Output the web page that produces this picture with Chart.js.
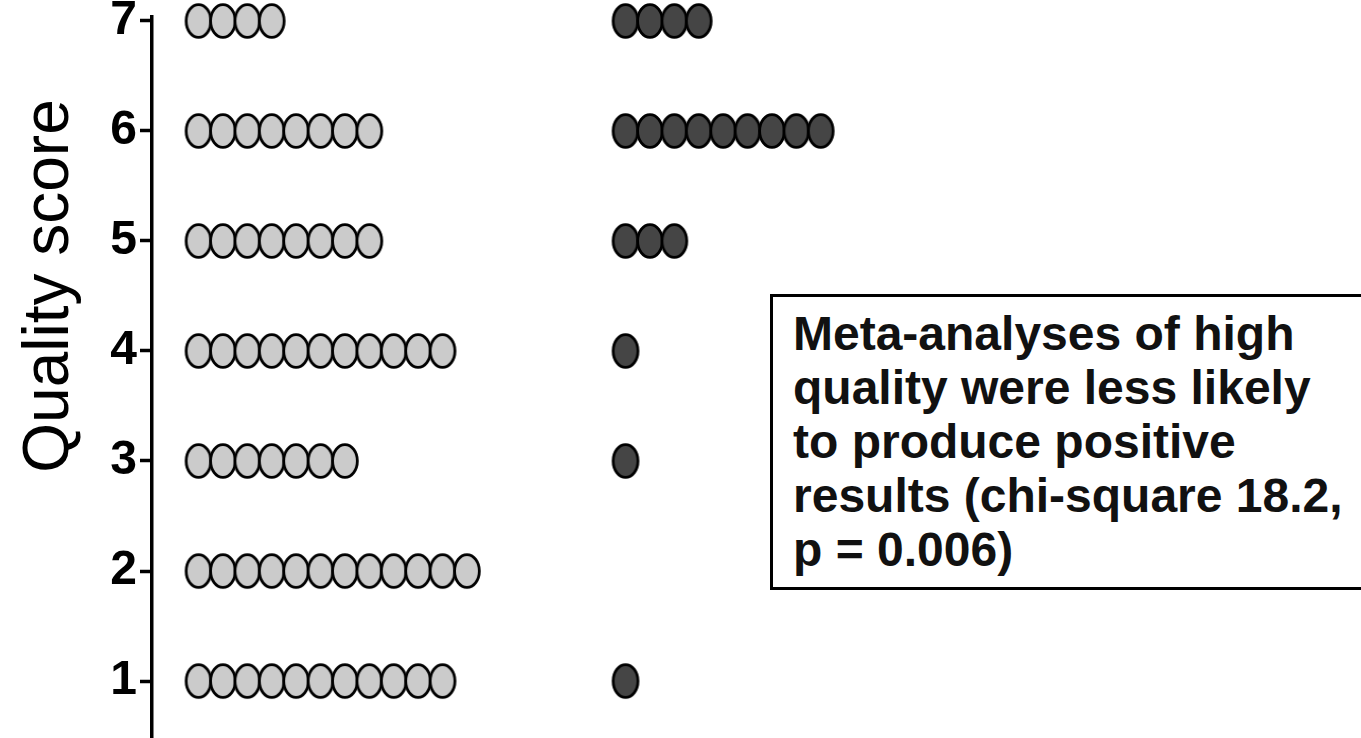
<!DOCTYPE html>
<html>
<head>
<meta charset="utf-8">
<script src="https://cdn.jsdelivr.net/npm/chart.js@4/dist/chart.umd.min.js"></script>
<style>
  html, body { margin: 0; padding: 0; background: #fff; overflow: hidden; }
  #wrap { position: relative; width: 1361px; height: 738px; }
  canvas { display: block; }
  #note {
    position: absolute;
    left: 770px;
    top: 294px;
    width: 700px;
    height: 296px;
    box-sizing: border-box;
    border: 3px solid #000;
    border-right: none;
    padding: 10px 0 0 20px;
    font-family: "Liberation Sans", Arial, sans-serif;
    font-weight: bold;
    font-size: 48px;
    line-height: 54px;
    color: #111;
    background: #fff;
  }
</style>
</head>
<body>
<div id="wrap">
  <canvas id="chart" width="1361" height="738"></canvas>
  <div id="note">Meta-analyses of high<br>quality were less likely<br>to produce positive<br>results (chi-square 18.2,<br>p = 0.006)</div>
</div>
<script>
// Quality score of each meta-analysis, one dot per study
const scores = [7, 6, 5, 4, 3, 2, 1];
// number of dots on each score row (left = light group, right = dark group)
const lightCounts = [4, 8, 8, 11, 7, 12, 11];
const darkCounts = [4, 9, 3, 1, 1, 0, 1];
const yTicks = [1, 2, 3, 4, 5, 6, 7];
const yTitle = 'Quality score';

// where each group column starts on the (hidden) x scale, in dot widths
const lightStart = 0;
const darkStart = 17.5;

function buildDots(counts, start) {
  const pts = [];
  scores.forEach((s, i) => {
    for (let k = 0; k < counts[i]; k++) {
      pts.push({ x: start + k, y: s });
    }
  });
  return pts;
}

// ellipse shaped marker, the dots are a bit taller than wide
function makeDot(fill) {
  const c = document.createElement('canvas');
  c.width = 30;
  c.height = 38;
  const g = c.getContext('2d');
  g.beginPath();
  g.ellipse(15, 19, 12.4, 16.4, 0, 0, Math.PI * 2);
  g.fillStyle = fill;
  g.fill();
  g.lineWidth = 2.8;
  g.strokeStyle = '#000';
  g.stroke();
  return c;
}

const titlePlugin = {
  id: 'sideTitle',
  afterDraw(chart) {
    const ctx = chart.ctx;
    ctx.save();
    ctx.translate(68, 286);
    ctx.rotate(-Math.PI / 2);
    ctx.font = '64px "Liberation Sans", Arial, sans-serif';
    ctx.fillStyle = '#000';
    ctx.textAlign = 'center';
    ctx.textBaseline = 'alphabetic';
    ctx.fillText(yTitle, 0, 0);
    ctx.restore();
  }
};

new Chart(document.getElementById('chart'), {
  type: 'scatter',
  data: {
    datasets: [
      {
        data: buildDots(lightCounts, lightStart),
        pointStyle: makeDot('#cbcbcb'),
        pointRadius: 14,
        clip: false
      },
      {
        data: buildDots(darkCounts, darkStart),
        pointStyle: makeDot('#454545'),
        pointRadius: 14,
        clip: false
      }
    ]
  },
  options: {
    responsive: false,
    animation: false,
    events: [],
    layout: { autoPadding: false, padding: { top: 17, right: 0, bottom: 0, left: 0 } },
    plugins: {
      legend: { display: false },
      tooltip: { enabled: false }
    },
    scales: {
      x: {
        type: 'linear',
        display: false,
        min: -1.906,
        max: 47.64
      },
      y: {
        type: 'linear',
        min: 0.482,
        max: 7.036,
        afterFit: (scale) => {
          scale.width = 152;
          scale.paddingTop = 0;
          scale.paddingBottom = 0;
        },
        afterBuildTicks: (scale) => {
          scale.ticks = yTicks.map(v => ({ value: v }));
        },
        border: { display: true, color: '#000', width: 3.5 },
        grid: {
          drawOnChartArea: false,
          drawTicks: true,
          tickLength: 12,
          tickWidth: 3.5,
          tickColor: '#000'
        },
        ticks: {
          padding: 3,
          color: '#000',
          font: { family: '"Liberation Sans", Arial, sans-serif', size: 48, weight: 'bold' }
        }
      }
    }
  },
  plugins: [titlePlugin]
});
</script>
</body>
</html>
